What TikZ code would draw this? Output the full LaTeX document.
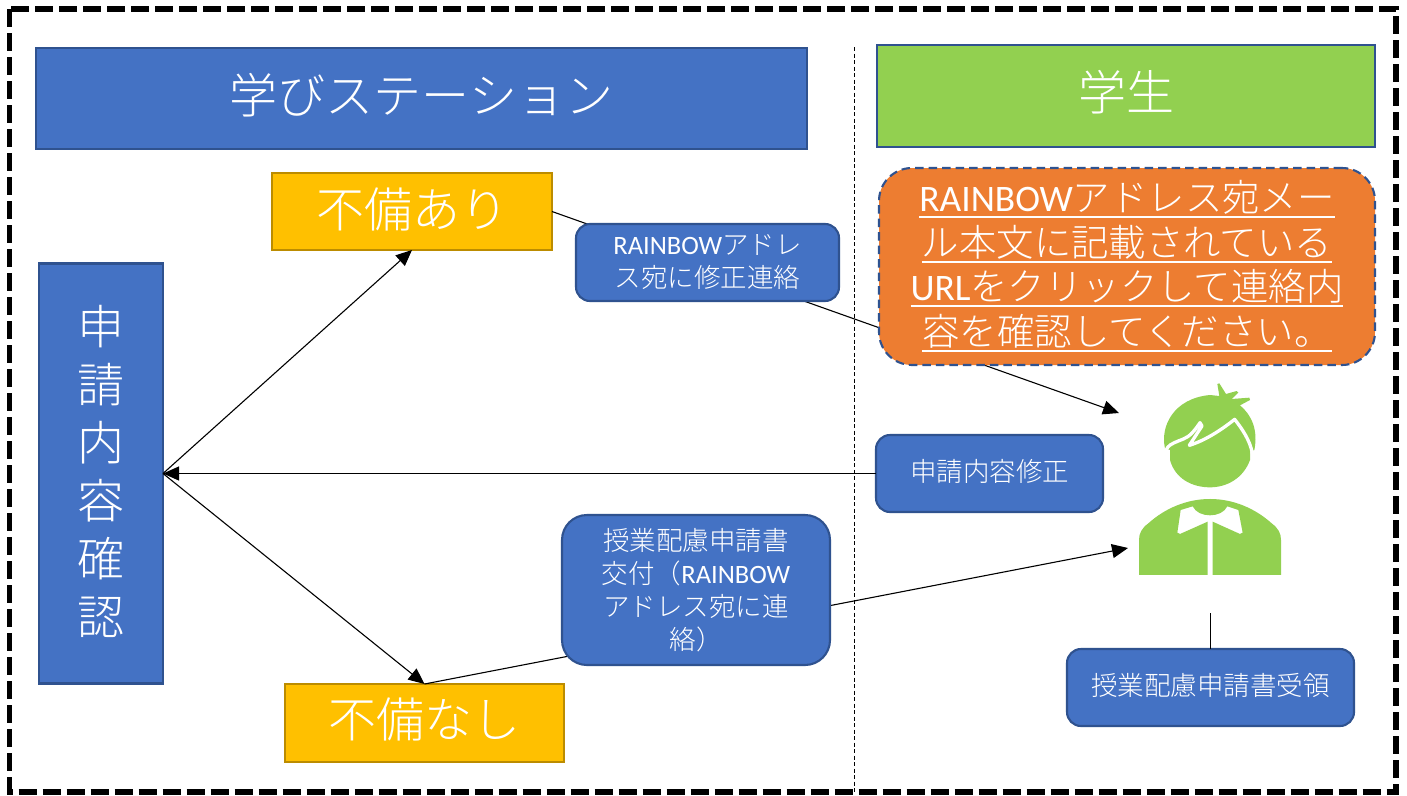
\documentclass[tikz,border=0pt]{standalone}
\usepackage{fontspec}
\usetikzlibrary{arrows.meta}
\setmainfont{Noto Sans CJK JP Light}
\newfontfamily\lat{Carlito}
\newcommand\fs[2]{\fontsize{#1}{#2}\selectfont}
\newcommand\ulin[1]{\setbox0=\hbox{#1}\rlap{\smash{\rule[-6.5pt]{\wd0}{2.2pt}}}\box0 }
\newcommand\lift[1]{\rule[-#1pt]{0pt}{0pt}}
\definecolor{bl}{HTML}{4472C4}
\definecolor{blb}{HTML}{2F528F}
\definecolor{gr}{HTML}{92D050}
\definecolor{ye}{HTML}{FFC000}
\definecolor{yeb}{HTML}{BC8C00}
\definecolor{or}{HTML}{ED7D31}
\tikzset{
  base/.style={inner sep=0pt,outer sep=0pt,align=center,text=white,line width=2.1pt},
  bluebox/.style={base,fill=bl,draw=blb},
  greenbox/.style={base,fill=gr,draw=blb},
  yellowbox/.style={base,fill=ye,draw=yeb},
  callout/.style={bluebox,rounded corners=14pt,font=\fs{26.5}{33}},
  big/.style={font=\fs{48}{56}},
  link/.style={line width=1.1pt,draw=black},
  tip/.style={-{Triangle[length=16pt,width=14pt]}},
}
\begin{document}
\begin{tikzpicture}[x=1pt,y=-1pt]
\useasboundingbox (0,0) rectangle (1407,795);
\fill[white] (0,0) rectangle (1407,795);
\draw[line width=5.5pt,dash pattern=on 18pt off 6pt] (9.5,9) rectangle (1396,792);
\draw[line width=0.9pt,dash pattern=on 4pt off 2.5pt] (854,47) -- (854,792);

\coordinate (tipA) at (1119,413);
\coordinate (tipB) at (1128,548);
\coordinate (personFoot) at (1210.5,613);

\node[bluebox,big,minimum width=771pt,minimum height=101pt] (titleA) at (421.5,98.5) {学びステーション\lift{11}};
\node[greenbox,big,minimum width=498pt,minimum height=102pt] (titleB) at (1126,96) {学生\lift{12}};
\node[bluebox,font=\fs{47}{58},minimum width=124pt,minimum height=420pt] (check) at (101,473.5) {申\\請\\内\\容\\確\\認\lift{7}};
\node[yellowbox,big,minimum width=280pt,minimum height=77pt] (flawYes) at (412,211.5) {不備あり\lift{7}};
\node[yellowbox,big,minimum width=279pt,minimum height=78pt] (flawNo) at (424.5,723) {不備なし\lift{10}};

\draw[link,tip] (check.east) -- (flawYes.south);
\draw[link,tip] (check.east) -- (flawNo.north);
\draw[link,tip] (flawYes.east) -- (tipA);
\draw[link,tip] (flawNo.north) -- (tipB);

\node[callout,minimum width=263pt,minimum height=77pt] (msgA) at (707.5,262.5) {{\lat RAINBOW}アドレ\\ス宛に修正連絡};
\node[callout,minimum width=227pt,minimum height=77pt] (msgB) at (989.5,473.5) {申請内容修正\lift{6}};
\draw[link,tip] (msgB.west) -- (check.east);
\node[callout,rounded corners=25pt,minimum width=268pt,minimum height=150pt] (msgC) at (696,590) {授業配慮申請書\\交付（{\lat RAINBOW}\\アドレス宛に連\\絡）};
\node[callout,minimum width=287pt,minimum height=77pt] (msgD) at (1210.5,687.5) {授業配慮申請書受領\lift{6}};
\draw[link] (personFoot) -- (msgD.north);

\node[base,fill=or,draw=blb,dash pattern=on 8.5pt off 5pt,rounded corners=33pt,font=\fs{37.4}{44.5},minimum width=496pt,minimum height=197pt] (notice) at (1127,266.5)
  {\ulin{{\lat RAINBOW}アドレス宛メー}\\\ulin{ル本文に記載されている}\\\ulin{{\lat URL}をクリックして連絡内}\\\ulin{容を確認してください。}\lift{7}};

\begin{scope}[shift={(1120,370)},x=0.3333pt,y=-0.3333pt]
 \fill[gr] (135,235) .. controls (120,170) and (160,85) .. (270,75) -- (298,78) -- (292,42) -- (298,40) -- (318,72) -- (350,63) -- (355,68) -- (335,87) -- (388,83) -- (390,90) -- (360,106)
   .. controls (395,135) and (415,180) .. (403,240) -- (390,245) -- (390,270)
   .. controls (370,325) and (320,352) .. (270,352) .. controls (215,352) and (165,325) .. (150,270) -- (150,240) -- cycle;
 \draw[white,line width=3.3pt,line join=round,line cap=round] (135,246) -- (143,232) .. controls (150,222) and (170,215) .. (190,207) .. controls (210,200) and (225,180) .. (240,158) -- (246,168) -- (208,226) .. controls (260,210) and (310,175) .. (344,148) .. controls (365,175) and (390,210) .. (397,250);
 \fill[gr] (57,615) -- (57,510) .. controls (57,490) and (65,475) .. (85,460) .. controls (135,415) and (200,387) .. (270,387) .. controls (340,387) and (405,415) .. (455,460) .. controls (475,475) and (483,490) .. (483,510) -- (483,615) -- (278,615) -- (278,455) -- (360,492) -- (368,488) -- (355,420) -- (322,409) .. controls (305,445) and (235,445) .. (218,409) -- (182,420) -- (172,488) -- (180,492) -- (263,455) -- (263,615) -- cycle;
\end{scope}
\end{tikzpicture}
\end{document}
